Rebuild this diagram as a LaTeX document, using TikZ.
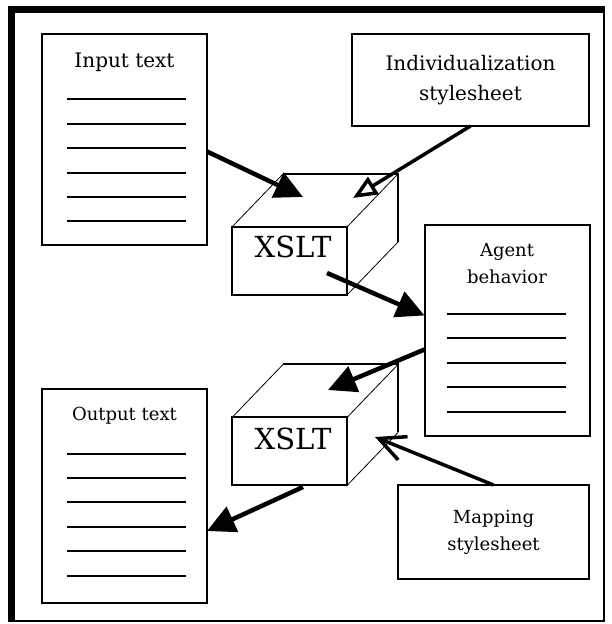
\documentclass[tikz,border=0pt]{standalone}
\usepackage{fontspec}
\setmainfont{DejaVu Serif}
\usetikzlibrary{positioning,arrows.meta}
\tikzset{
  docbox/.style={draw, line width=2pt, outer sep=0pt, inner sep=0pt, minimum width=165pt, minimum height=211pt},
  sheetbox/.style={draw, line width=2pt, outer sep=0pt, inner sep=0pt, align=center},
  cubefront/.style={draw, line width=2pt, outer sep=0pt, inner sep=0pt, minimum width=115pt, minimum height=68pt},
  backedge/.style={line width=2pt, line join=miter},
  hiddenedge/.style={line width=0.8pt},
  textline/.style={line width=2pt},
  flowarrow/.style={-{Triangle[length=28pt,width=27pt]}, line width=4.5pt},
  openarrow/.style={-{Triangle[open,length=24pt,width=20pt]}, line width=3.5pt},
  barbarrow/.style={-{Straight Barb[length=26pt,width=25pt]}, line width=3.5pt},
  bigtitle/.style={font=\fontsize{20}{30}\selectfont, align=center},
  smalltitle/.style={font=\fontsize{18}{27}\selectfont, align=center},
  xsltlabel/.style={font=\fontsize{29}{34}\selectfont}
}

\begin{document}
\begin{tikzpicture}[x=1pt, y=1pt]
  \useasboundingbox (0,0) rectangle (611,624);
  % frame
  \draw[line width=2pt] (9,3) rectangle (604,617);
  \fill (8,611) rectangle (605,618);
  \fill (8,2) rectangle (15,618);

  % documents
  \node[docbox] (inp) at (124.5,484.5) {};
  \node[bigtitle] (inptitle) at (124.5,562) {Input text};
  \foreach \y in {524.5,500.1,475.7,451.3,426.9,402.5}
    \draw[textline] (67,\y) -- (186,\y);

  \node[docbox] (agent) at (507,293.5) {};
  \node[smalltitle] (agenttitle) at (507,360.5) {Agent\\behavior};
  \foreach \y in {310,285.6,261.2,236.8,212.4}
    \draw[textline] (447,\y) -- (566,\y);

  \node[docbox, minimum height=214pt] (out) at (124.5,128) {};
  \node[smalltitle] (outtitle) at (124.5,208) {Output text};
  \foreach \y in {170.4,146,121.6,97.2,72.8,48.4}
    \draw[textline] (67,\y) -- (186,\y);

  % stylesheets
  \node[sheetbox, bigtitle, minimum width=237pt, minimum height=92pt] (indiv) at (470.5,544) {Individualization\\stylesheet};
  \node[sheetbox, smalltitle, minimum width=191pt, minimum height=94pt] (map) at (493.5,92) {Mapping\\stylesheet};

  % processors
  \node[cubefront] (xs1) at (289.5,363) {};
  \node[cubefront] (xs2) at (289.5,172.5) {};
  \foreach \c in {xs1,xs2} {
    \draw[hiddenedge] (\c.north west) -- ++(51,53);
    \draw[hiddenedge] (\c.north east) -- ++(51,53);
    \draw[hiddenedge] (\c.south east) -- ++(51,53);
    \draw[backedge] ([shift={(51,53)}]\c.north west) -- ([shift={(51,53)}]\c.north east) -- ([shift={(51,53)}]\c.south east);
  }
  \node[xsltlabel] (xs1label) at (293,377) {XSLT};
  \node[xsltlabel] (xs2label) at (293,185) {XSLT};

  % arrows
  \coordinate (tipa) at (303,427);
  \coordinate (tipb) at (353,426);
  \coordinate (srcc) at (327,351);
  \coordinate (tipd) at (328,234);
  \coordinate (tipe) at (375,187);
  \coordinate (srcf) at (303,137);
  \draw[flowarrow] ([yshift=-12pt]inp.east) -- (tipa);
  \draw[openarrow] (indiv.south) -- (tipb);
  \draw[flowarrow] (srcc) -- ([yshift=15pt]agent.west);
  \draw[flowarrow] ([yshift=-19pt]agent.west) -- (tipd);
  \draw[barbarrow] (map.north) -- (tipe);
  \draw[flowarrow] (srcf) -- ([yshift=-35pt]out.east);
\end{tikzpicture}
\end{document}
